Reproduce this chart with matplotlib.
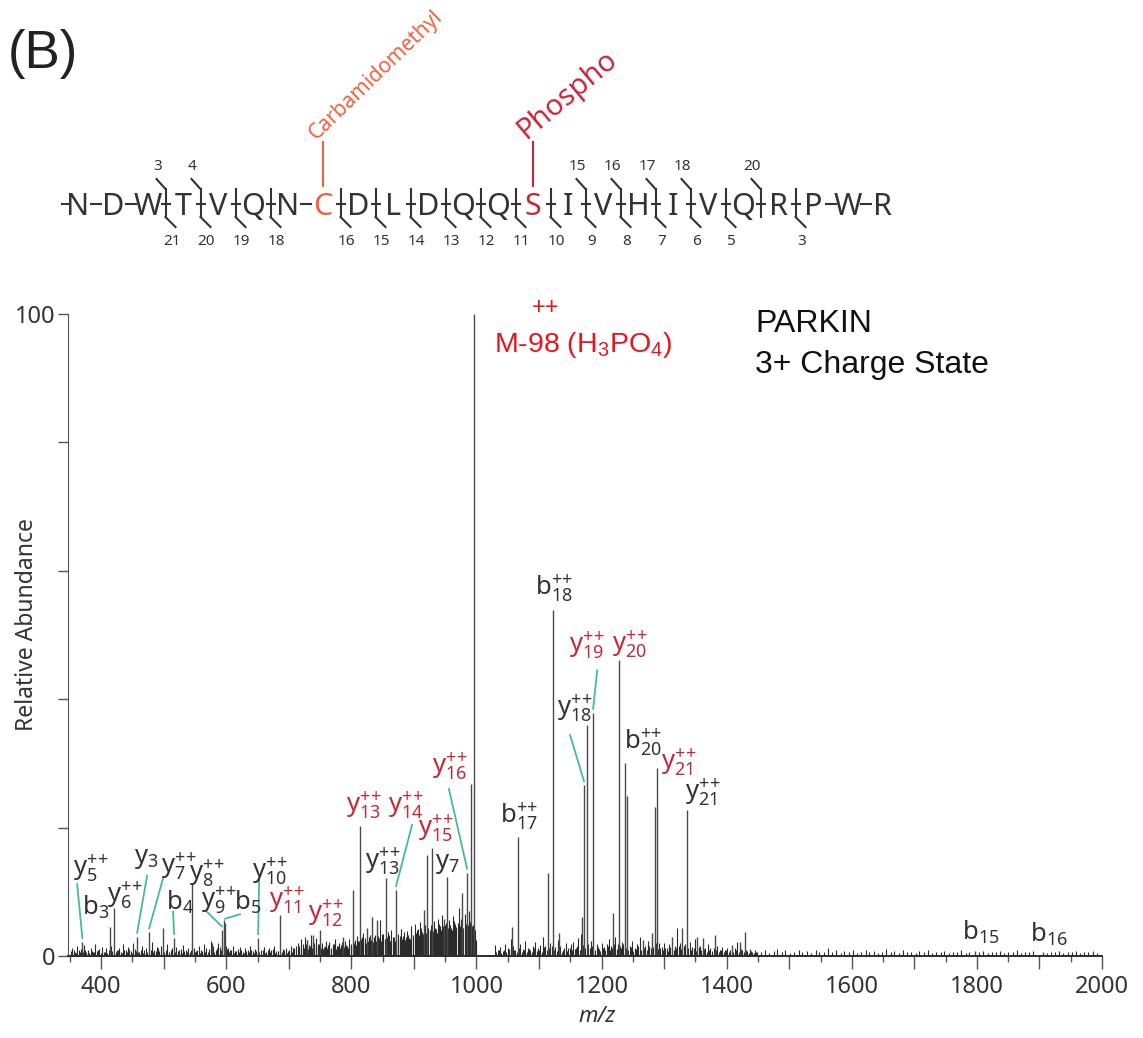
import matplotlib
matplotlib.use('Agg')
import matplotlib.pyplot as plt

plt.rcParams['font.family'] = ['Noto Sans', 'DejaVu Sans']
plt.rcParams['mathtext.fontset'] = 'custom'
plt.rcParams['mathtext.rm'] = 'Noto Sans'
plt.rcParams['mathtext.it'] = 'Noto Sans:italic'

DARK = '#333333'
RED = '#c3283b'
TEAL = '#45bb98'
ORANGE = '#f0623f'
BRIGHT = '#e5161f'

# ---------------- peptide map ----------------
seq = "NDWTVQNCDLDQQSIVHIVQRPWR"
b_sites = [3, 4, 15, 16, 17, 18, 20]
y_sites = [21, 20, 19, 18, 16, 15, 14, 13, 12, 11, 10, 9, 8, 7, 6, 5, 3]
mods = {7: ('Carbamidomethyl', ORANGE, 15, 44), 13: ('Phospho', RED, 21, 40)}

# ---------------- spectrum (m/z, rel. abundance) ----------------
peaks = [(370, 2.2), (414, 4.5), (421, 7.5), (457.5, 3.0), (476.7, 3.7), (499, 4.4),
         (516.7, 2.8), (545.5, 11.4), (577, 2.0), (593, 4.0), (596, 5.6), (598, 5.2),
         (651, 2.8), (686, 6.4), (729, 2.5), (739, 3.3), (750, 4.0), (787, 3.0),
         (803, 10.3), (814, 20.2), (825, 4.4), (833, 6.0), (841, 5.6), (855.6, 12.1),
         (871.5, 10.3), (916, 7.2), (921, 15.7), (929, 16.8), (948, 5.8), (953, 12.3),
         (977, 9.8), (985, 13.0), (991.4, 26.8), (996.2, 100.0), (1057, 4.5),
         (1066.6, 18.5), (1114.5, 13.0), (1122.5, 53.9), (1132, 3.6), (1169, 6.0),
         (1172, 26.6), (1176.9, 36.0), (1186.5, 37.9), (1218, 6.7), (1228, 46.1),
         (1237.6, 30.0), (1240.8, 25.0), (1266, 2.5), (1281, 3.6), (1285.5, 23.2),
         (1288.7, 29.3), (1313, 3.0), (1329, 4.4), (1336.6, 22.7), (1353, 3.0),
         (1362, 2.8), (1381, 3.3), (1408, 1.7), (1421, 2.2), (1429, 3.7),
         (1797, 0.8), (1905, 0.7)]

noise_low = [(351, 0.8), (354, 1.2), (358, 0.6), (361, 1.5), (364, 0.9), (368, 1.1), (373, 1.7),
             (376, 0.7), (379, 1.0), (383, 1.3), (387, 0.6), (390, 1.9), (393, 0.8), (397, 1.1),
             (401, 1.4), (404, 0.7), (408, 1.2), (412, 1.0), (416, 1.6), (425, 0.9), (428, 1.3),
             (431, 0.6), (435, 1.8), (439, 1.0), (443, 1.4), (447, 0.8), (451, 2.0), (454, 1.1),
             (461, 0.7), (465, 1.5), (469, 1.0), (472, 1.3), (481, 2.2), (485, 0.9), (489, 1.4),
             (493, 0.8), (496, 1.6), (503, 1.0), (506, 1.9), (509, 0.7), (513, 1.2), (520, 1.4),
             (523, 0.8), (527, 1.1), (531, 1.7), (535, 0.9), (539, 1.3), (542, 0.7), (548, 1.2),
             (552, 0.8), (556, 1.5), (560, 1.0), (564, 1.8), (568, 1.2), (571, 0.7), (575, 2.3),
             (579, 1.6), (583, 1.0), (587, 2.1), (590, 1.4), (603, 1.3), (606, 0.9), (610, 1.5),
             (614, 0.8), (618, 1.1), (622, 1.4), (626, 0.7), (630, 1.2), (634, 1.0), (638, 1.6),
             (642, 0.8), (646, 1.1), (656, 1.0), (660, 1.4), (664, 0.7), (668, 1.2), (672, 0.9),
             (676, 1.5), (680, 0.8), (691, 1.1), (695, 1.3), (699, 0.8), (703, 1.6), (707, 1.2)]

noise_mid = [(711, 1.6), (714, 2.1), (717, 1.2), (720, 2.6), (723, 1.8), (726, 2.9), (729, 2.5),
             (732, 1.7), (735, 3.3), (738, 2.2), (741, 1.5), (744, 2.8), (747, 1.9), (753, 2.0),
             (756, 1.4), (759, 2.4), (762, 1.7), (765, 2.2), (768, 1.3), (771, 1.9), (774, 2.6),
             (777, 1.5), (780, 2.1), (784, 1.7), (790, 2.3), (793, 1.6), (796, 2.7), (799, 1.9),
             (806, 2.5), (809, 3.1), (812, 2.4), (817, 2.9), (819, 3.6), (822, 2.2), (828, 3.0),
             (831, 2.5), (838, 3.3), (844, 2.8), (846, 5.6), (849, 3.5), (853, 2.7), (858, 3.8),
             (861, 2.4), (864, 4.1), (868, 3.0), (874, 3.5), (877, 2.6), (880, 4.2), (883, 3.1),
             (886, 2.5), (889, 3.9), (892, 2.8), (895, 4.6), (898, 3.3), (901, 5.0), (904, 3.6),
             (907, 4.2), (910, 5.3), (913, 3.8), (918, 4.9), (925, 4.1), (932, 5.4), (935, 4.2),
             (938, 5.8), (941, 4.6), (945, 6.4), (950, 4.9), (956, 5.6), (959, 4.3), (962, 6.2),
             (965, 5.0), (968, 4.5), (972, 7.5), (975, 5.8), (981, 6.6), (983, 5.0), (988, 7.0),
             (993, 4.6), (998, 4.0), (1000, 2.5)]

noise_high = [(1030, 1.7), (1034, 1.0), (1038, 1.4), (1042, 0.8), (1046, 1.9), (1050, 1.2),
              (1055, 2.6), (1058, 1.5), (1062, 1.0), (1070, 1.8), (1074, 1.1), (1078, 2.4),
              (1082, 1.3), (1086, 0.9), (1090, 1.6), (1094, 2.2), (1098, 1.2), (1102, 1.7),
              (1106, 3.0), (1110, 1.5), (1118, 2.0), (1126, 1.4), (1130, 2.5), (1134, 1.6),
              (1138, 1.0), (1143, 2.0), (1147, 1.3), (1151, 1.8), (1155, 2.2), (1159, 1.2),
              (1163, 2.8), (1167, 3.5), (1183, 2.4), (1192, 1.8), (1196, 1.1), (1200, 2.1),
              (1204, 1.4), (1208, 1.9), (1212, 2.6), (1215, 1.5), (1222, 3.0), (1226, 1.8),
              (1233, 2.2), (1245, 1.6), (1249, 2.4), (1253, 1.2), (1257, 1.8), (1261, 2.9),
              (1270, 1.5), (1274, 2.3), (1292, 2.1), (1296, 1.4), (1300, 2.0), (1304, 1.2),
              (1308, 1.8), (1317, 1.6), (1321, 4.4), (1325, 2.0), (1341, 2.2), (1345, 1.4),
              (1349, 2.6), (1357, 1.6), (1366, 1.3), (1370, 1.9), (1374, 1.2), (1385, 1.5),
              (1389, 1.0), (1393, 1.4), (1397, 0.9), (1401, 1.3), (1413, 1.2), (1417, 2.2),
              (1425, 1.0), (1433, 0.8), (1437, 1.1), (1441, 0.7), (1445, 1.0), (1449, 0.6)]

noise_fill = [(352.5, 0.5), (356, 0.9), (359.5, 0.4), (366, 0.7), (370.5, 0.6), (374.5, 1.0),
              (381, 0.5), (385, 0.8), (388.5, 0.6), (395, 0.9), (399, 0.5), (406, 0.7),
              (410, 0.4), (418, 0.8), (423, 0.6), (427, 1.0), (433, 0.5), (437, 0.9),
              (441, 0.6), (445, 1.1), (449, 0.5), (456, 0.8), (459, 0.6), (463, 1.0),
              (467, 0.5), (474, 0.7), (479, 0.9), (483, 0.6), (487, 0.8), (491, 1.2),
              (501, 0.7), (505, 0.5), (511, 0.9), (518, 0.6), (525, 1.0), (529, 0.5),
              (533, 0.8), (537, 0.6), (544, 0.9), (550, 0.6), (554, 1.0), (558, 0.5),
              (562, 0.8), (566, 0.6), (573, 1.1), (581, 0.7), (585, 1.2), (592, 0.9),
              (600, 1.6), (601, 1.1), (605, 0.6), (608, 1.0), (612, 0.5), (616, 0.8),
              (620, 0.6), (624, 1.0), (628, 0.5), (632, 0.8), (636, 0.6), (640, 0.9),
              (644, 0.5), (648, 0.8), (653, 0.6), (658, 1.0), (662, 0.5), (666, 0.9),
              (670, 0.6), (674, 1.1), (678, 0.5), (683, 0.8), (689, 0.6), (693, 0.9),
              (697, 0.5), (701, 1.0), (705, 0.7), (709, 1.2), (712, 0.9), (716, 1.5),
              (719, 1.0), (722, 1.7), (725, 1.2), (728, 1.9), (731, 1.1), (734, 1.6),
              (737, 1.3), (740, 2.0), (743, 1.2), (746, 1.5), (749, 1.8), (752, 1.3),
              (755, 1.1), (758, 1.6), (761, 1.2), (764, 1.9), (767, 1.0), (770, 1.4),
              (773, 1.8), (776, 1.1), (779, 1.5), (782, 1.3), (785, 2.2), (788, 1.4),
              (791, 1.7), (794, 1.2), (797, 1.9), (800, 1.6), (804, 2.0), (807, 1.7),
              (810, 2.3), (813, 1.8), (815, 2.6), (818, 2.0), (821, 2.8), (824, 2.1),
              (827, 2.4), (830, 3.2), (834, 2.2), (836, 2.9), (839, 2.4), (843, 3.1),
              (847, 2.3), (851, 3.4), (854, 2.6), (857, 2.9), (860, 3.3), (863, 2.5),
              (866, 3.0), (869, 2.4), (872, 3.6), (875, 2.7), (878, 3.1), (881, 2.6),
              (884, 3.8), (887, 2.9), (890, 3.3), (893, 2.7), (896, 3.9), (899, 3.0),
              (902, 3.6), (905, 4.0), (908, 3.2), (911, 4.4), (914, 3.5), (917, 4.1),
              (920, 3.6), (923, 4.3), (926, 3.7), (928, 4.8), (931, 3.9), (934, 4.4),
              (937, 3.6), (940, 5.0), (943, 4.1), (946, 4.7), (949, 3.8), (952, 5.2),
              (955, 4.3), (958, 4.9), (961, 4.0), (964, 5.4), (967, 4.2), (970, 5.1),
              (973, 4.6), (976, 5.5), (979, 4.4), (982, 5.8), (986, 4.9), (989, 5.3),
              (992, 4.5), (995, 4.8), (997, 3.5), (999, 1.8),
              (1032, 0.6), (1036, 0.9), (1040, 0.5), (1044, 1.0), (1048, 0.7), (1052, 1.1),
              (1056, 0.6), (1060, 0.9), (1064, 0.7), (1068, 1.2), (1072, 0.6), (1076, 1.0),
              (1080, 0.7), (1084, 1.1), (1088, 0.6), (1092, 1.3), (1096, 0.8), (1100, 1.0),
              (1104, 0.7), (1108, 1.4), (1112, 0.9), (1116, 1.2), (1120, 1.6), (1124, 1.0),
              (1128, 0.8), (1132, 1.1), (1136, 0.7), (1140, 1.2), (1145, 0.8), (1149, 1.3),
              (1153, 0.9), (1157, 1.1), (1161, 1.5), (1165, 1.0), (1170, 1.7), (1174, 1.3),
              (1178, 1.9), (1181, 1.2), (1185, 1.6), (1189, 1.0), (1194, 1.4), (1198, 0.8),
              (1202, 1.2), (1206, 0.9), (1210, 1.5), (1214, 1.0), (1217, 1.3), (1220, 1.8),
              (1224, 1.1), (1229, 1.6), (1231, 1.2), (1235, 1.9), (1239, 1.3), (1243, 1.0),
              (1247, 1.4), (1251, 0.8), (1255, 1.1), (1259, 1.5), (1263, 1.0), (1268, 1.3),
              (1272, 0.9), (1276, 1.6), (1279, 1.2), (1283, 1.4), (1287, 2.0), (1290, 1.1),
              (1294, 1.3), (1298, 0.9), (1302, 1.2), (1306, 0.8), (1310, 1.4), (1315, 1.0),
              (1319, 1.2), (1323, 1.6), (1327, 1.1), (1331, 1.5), (1334, 1.8), (1338, 1.3),
              (1343, 1.0), (1347, 1.2), (1351, 0.8), (1355, 1.4), (1359, 1.0), (1364, 1.1),
              (1368, 0.7), (1372, 1.0), (1376, 0.8), (1379, 1.2), (1383, 0.9), (1387, 0.7),
              (1391, 1.0), (1395, 0.6), (1399, 0.9), (1403, 0.6), (1406, 1.0), (1410, 0.7),
              (1415, 0.9), (1419, 0.6), (1423, 1.1), (1427, 0.7), (1431, 0.9), (1435, 0.5),
              (1439, 0.8), (1443, 0.5), (1447, 0.7)]

noise_tail = [(1455, 0.6), (1462, 0.9), (1468, 0.5), (1475, 0.8), (1481, 1.1), (1488, 0.6),
              (1494, 0.9), (1501, 0.5), (1508, 0.7), (1515, 1.0), (1521, 0.6), (1528, 0.8),
              (1535, 0.5), (1542, 0.9), (1548, 0.6), (1555, 0.7), (1562, 1.3), (1568, 0.6),
              (1575, 0.9), (1582, 0.5), (1588, 0.8), (1595, 0.6), (1602, 1.0), (1608, 0.5),
              (1615, 0.7), (1622, 0.9), (1628, 0.6), (1635, 0.8), (1642, 0.5), (1648, 0.7),
              (1655, 1.1), (1662, 0.6), (1668, 0.8), (1675, 0.5), (1682, 0.9), (1688, 0.6),
              (1695, 0.7), (1702, 0.5), (1708, 0.8), (1715, 0.6), (1722, 0.9), (1728, 0.5),
              (1735, 0.7), (1742, 0.6), (1748, 0.8), (1755, 0.5), (1762, 0.7), (1768, 0.6),
              (1775, 0.9), (1782, 0.5), (1788, 0.7), (1804, 0.6), (1810, 0.8), (1817, 0.5),
              (1824, 0.7), (1830, 0.6), (1837, 0.8), (1844, 0.5), (1850, 0.7), (1857, 0.6),
              (1864, 0.9), (1870, 0.5), (1877, 0.7), (1884, 0.6), (1890, 0.8), (1912, 0.5),
              (1918, 0.7), (1925, 0.6), (1932, 0.8), (1938, 0.5), (1945, 0.7), (1952, 0.6),
              (1958, 0.8), (1965, 0.5), (1972, 0.7), (1978, 0.6), (1985, 0.8), (1992, 0.5)]

# fragment labels: ion, number, doubly charged, colour, label m/z, label height
frag_labels = [('y', '5', True, DARK, 355, 12.6), ('b', '3', False, DARK, 369.6, 6.4),
               ('y', '6', True, DARK, 409.6, 8.3), ('y', '3', False, DARK, 452.7, 14.5),
               ('y', '7', True, DARK, 495, 12.9), ('y', '8', True, DARK, 540, 11.8),
               ('b', '4', False, DARK, 503.5, 7.2), ('y', '9', True, DARK, 559, 7.6),
               ('b', '5', False, DARK, 613, 7.2), ('y', '10', True, DARK, 641, 12.1),
               ('y', '11', True, RED, 668.5, 7.6), ('y', '12', True, RED, 731, 5.6),
               ('y', '13', True, DARK, 822, 13.7), ('y', '13', True, RED, 791.6, 22.4),
               ('y', '14', True, RED, 858.8, 22.4), ('y', '15', True, RED, 906.7, 18.8),
               ('y', '7', False, DARK, 934, 13.7), ('y', '16', True, RED, 929, 28.5),
               ('b', '17', True, DARK, 1037.8, 20.7), ('b', '18', True, DARK, 1093.7, 56.2),
               ('y', '19', True, RED, 1148, 47.2), ('y', '20', True, RED, 1216.8, 47.4),
               ('y', '18', True, DARK, 1129, 37.5), ('b', '20', True, DARK, 1236, 32.1),
               ('y', '21', True, RED, 1295, 29.0), ('y', '21', True, DARK, 1333.5, 24.3),
               ('b', '15', False, DARK, 1776, 2.5), ('b', '16', False, DARK, 1885, 2.2)]

# leader lines: start (m/z, height) -> peak m/z
leaders = [(361.6, 11.2, 370), (473.5, 12.5, 457.5), (499, 12.1, 476.7), (515, 6.9, 516.7),
           (569, 6.9, 593), (622, 6.5, 598), (652.6, 11.8, 651), (897, 20.4, 871.5),
           (956, 26.0, 985), (1149.7, 34.4, 1172), (1193, 44.5, 1186.5)]

fig = plt.figure(figsize=(11.43, 10.38), dpi=100)
W, H = 1143, 1038
ax = fig.add_axes([68 / W, 82 / H, (1102 - 68) / W, (956 - 314) / H])
ax.patch.set_alpha(0)

# spectrum sticks
for group in [noise_low, noise_mid, noise_high, noise_fill, noise_tail]:
    ax.vlines([p[0] for p in group], 0, [p[1] for p in group], color='#2b2b2b', lw=0.8)
ax.vlines([p[0] for p in peaks], 0, [p[1] for p in peaks], color='#4a4a4a', lw=1.0)

ax.set_xlim(347, 2000)
ax.set_ylim(0, 100)
for s in ['top', 'right']:
    ax.spines[s].set_visible(False)
ax.spines['left'].set_color('#555555')
ax.spines['bottom'].set_color('#2b2b2b')
ax.spines['bottom'].set_linewidth(1.4)
ax.set_xticks(range(400, 2001, 100))
ax.set_xticklabels([str(v) if v % 200 == 0 else '' for v in range(400, 2001, 100)])
ax.set_xticks(range(350, 2001, 50), minor=True)
ax.set_yticks(range(0, 101, 20))
ax.set_yticklabels(['0', '', '', '', '', '100'])
ax.tick_params(axis='x', which='major', length=9, width=1, color='#555555',
               labelsize=17, labelcolor=DARK, pad=5)
ax.tick_params(axis='x', which='minor', length=4.5, width=1, color='#555555')
ax.tick_params(axis='y', length=7, width=1, color='#555555', labelsize=17,
               labelcolor=DARK, pad=2)

pk = dict(peaks)
for ion, n, dbl, col, x, y in frag_labels:
    s = ion + '_{' + n + '}' + (r'^{+\!+}' if dbl else '')
    ax.text(x, y, r'$\mathregular{' + s + '}$', color=col, fontsize=18.5,
            ha='left', va='baseline')
for x, y, target in leaders:
    ax.plot([x, target], [y, pk[target] + 0.6], color=TEAL, lw=1.3)

ax.text(1028, 94.1, r'M-98 (H$\mathregular{_3}$PO$\mathregular{_4}$)', color=BRIGHT,
        fontsize=20.5, family='Liberation Sans', ha='left', va='baseline')
ax.text(1111, 100.9, '++', color=BRIGHT, fontsize=17, family='Liberation Sans',
        ha='center', va='center')

# overlay in pixel coordinates for the peptide map and free text
top = fig.add_axes([0, 0, 1, 1])
top.set_xlim(0, W)
top.set_ylim(H, 0)
top.axis('off')
top.patch.set_alpha(0)

top.text(8, 68, '(B)', fontsize=38, family='Liberation Sans', color='#222222',
         ha='left', va='baseline')
top.text(755, 332, 'PARKIN', fontsize=23, family='Liberation Sans', color='#111111',
         ha='left', va='baseline')
top.text(755, 373, '3+ Charge State', fontsize=23, family='Liberation Sans',
         color='#111111', ha='left', va='baseline')
top.text(27, 625, 'Relative Abundance', fontsize=16.5, color=DARK, rotation=90,
         ha='center', va='center')
top.text(597, 1016, 'm/z', fontsize=16, style='italic', color=DARK,
         ha='center', va='center')

x0, step, base = 78, 35, 215
lc = '#333333'
top.plot([62, 69], [204, 204], color=lc, lw=1.5)
for i, aa in enumerate(seq):
    col = mods[i][1] if i in mods else lc
    top.text(x0 + i * step, base, aa, fontsize=22, color=col, ha='center',
             va='baseline')
    if i in mods:
        name, mcol, fs, ang = mods[i]
        top.plot([x0 + i * step] * 2, [186, 142], color=mcol, lw=1.5)
        top.text(x0 + i * step - 7, 140, name, fontsize=fs, color=mcol,
                 rotation=ang, rotation_mode='anchor', ha='left', va='baseline')
for k in range(1, len(seq)):
    xg = x0 + (k - 0.5) * step
    hb = k in b_sites
    hy = (len(seq) - k) in y_sites
    if not hb and not hy:
        top.plot([xg - 5, xg + 5], [204, 204], color=lc, lw=1.5)
        continue
    top.plot([xg, xg], [189, 217], color=lc, lw=1.5)
    top.plot([xg - 4, xg + 4], [204, 204], color=lc, lw=1.5)
    if hb:
        top.plot([xg, xg - 9], [189, 179], color=lc, lw=1.5)
        top.text(xg - 8, 170, str(k), fontsize=11, color=lc, ha='center', va='baseline')
    if hy:
        top.plot([xg, xg + 10], [217, 227], color=lc, lw=1.5)
        top.text(xg + 6, 245, str(len(seq) - k), fontsize=11, color=lc,
                 ha='center', va='baseline')

fig.savefig('out.png', dpi=100)
